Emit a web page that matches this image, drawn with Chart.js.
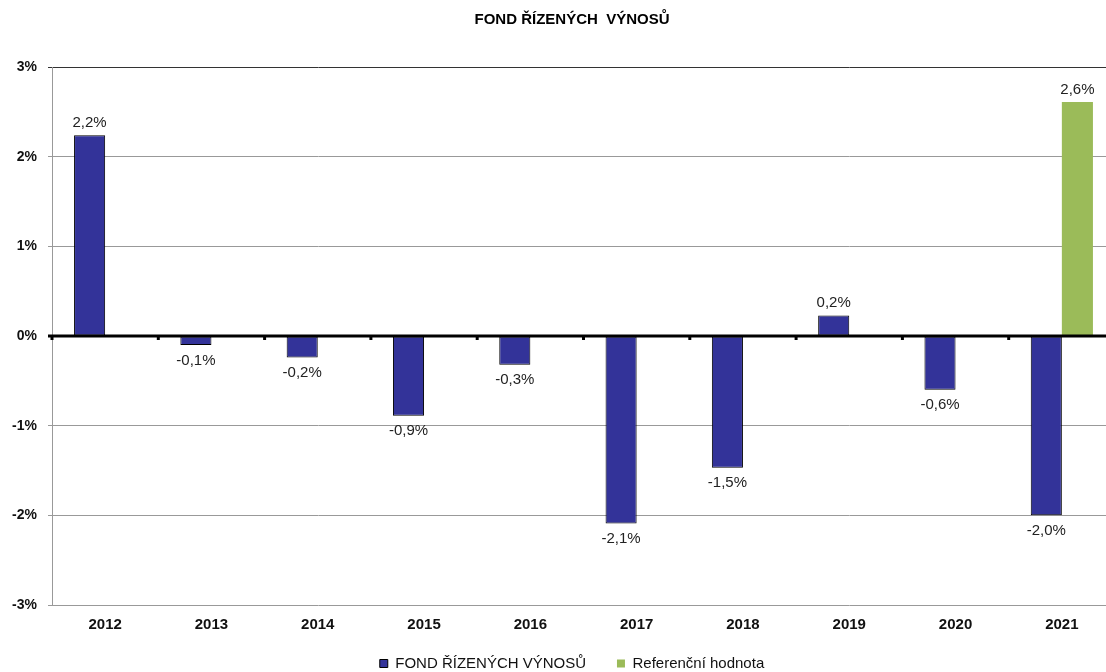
<!DOCTYPE html>
<html>
<head>
<meta charset="utf-8">
<script src="https://cdn.jsdelivr.net/npm/chart.js@4/dist/chart.umd.min.js"></script>
<style>
  html, body { margin: 0; padding: 0; background: #fff; overflow: hidden; width: 1106px; height: 672px; }
  #wrap { width: 1106px; height: 672px; overflow: hidden; }
</style>
</head>
<body>
<div id="wrap"><canvas id="fond_chart" width="1144" height="681"></canvas></div>
<script>
"use strict";

const years = ["2012", "2013", "2014", "2015", "2016", "2017", "2018", "2019", "2020", "2021"];
const fondValues = [2.24, -0.1, -0.24, -0.89, -0.32, -2.09, -1.47, 0.23, -0.6, -2.0];
const fondLabels = ["2,2%", "-0,1%", "-0,2%", "-0,9%", "-0,3%", "-2,1%", "-1,5%", "0,2%", "-0,6%", "-2,0%"];
const refValues = [null, null, null, null, null, null, null, null, null, 2.61];
const refLabels = [null, null, null, null, null, null, null, null, null, "2,6%"];
const yTicks = [-3, -2, -1, 0, 1, 2, 3];

Chart.defaults.font.family = "'Liberation Sans', Arial, sans-serif";
Chart.defaults.color = "#111";

// value labels above / below bars
const barLabels = {
  id: "barLabels",
  afterDatasetsDraw(chart) {
    const ctx = chart.ctx;
    const texts = [fondLabels, refLabels];
    ctx.save();
    ctx.font = "15px 'Liberation Sans', Arial, sans-serif";
    ctx.fillStyle = "#222";
    ctx.textAlign = "center";
    chart.data.datasets.forEach((ds, i) => {
      const meta = chart.getDatasetMeta(i);
      meta.data.forEach((bar, j) => {
        const v = ds.data[j];
        if (v === null) return;
        if (v >= 0) {
          ctx.textBaseline = "bottom";
          ctx.fillText(texts[i][j], bar.x, bar.y - 5);
        } else {
          ctx.textBaseline = "top";
          ctx.fillText(texts[i][j], bar.x, bar.y + 8);
        }
      });
    });
    ctx.restore();
  }
};

// thick zero line + small category tick marks on it
const zeroTicks = {
  id: "zeroTicks",
  afterDatasetsDraw(chart) {
    const ctx = chart.ctx;
    const x = chart.scales.x;
    const y0 = chart.scales.y.getPixelForValue(0);
    const step = x.getPixelForValue(1) - x.getPixelForValue(0);
    ctx.save();
    ctx.strokeStyle = "#000";
    ctx.lineWidth = 3;
    ctx.beginPath();
    ctx.moveTo(x.left - 4, y0);
    ctx.lineTo(x.right, y0);
    ctx.stroke();
    for (let i = 0; i < years.length; i++) {
      const bx = x.getPixelForValue(i) - step / 2;
      ctx.beginPath();
      ctx.moveTo(bx, y0);
      ctx.lineTo(bx, y0 + 4);
      ctx.stroke();
    }
    ctx.restore();
  }
};

const ctx1 = document.getElementById("fond_chart").getContext("2d");
const fondChart = new Chart(ctx1, {
  type: "bar",
  data: {
    labels: years,
    datasets: [
      {
        label: "FOND ŘÍZENÝCH VÝNOSŮ",
        data: fondValues,
        backgroundColor: "#333399",
        borderColor: "#000",
        borderWidth: 1,
        borderSkipped: false
      },
      {
        label: "Referenční hodnota",
        data: refValues,
        backgroundColor: "#9bbb59",
        borderWidth: 0
      }
    ]
  },
  options: {
    responsive: false,
    animation: false,
    datasets: {
      bar: { categoryPercentage: 0.585, barPercentage: 1 }
    },
    layout: { padding: 0 },
    plugins: {
      title: {
        display: true,
        text: "FOND ŘÍZENÝCH  VÝNOSŮ",
        font: { size: 15, weight: "bold" },
        color: "#000",
        padding: { top: 11, bottom: 38 }
      },
      legend: {
        position: "bottom",
        labels: {
          boxWidth: 8,
          boxHeight: 8,
          padding: 10,
          color: "#111",
          font: { size: 15 },
          generateLabels: chart => {
            const items = Chart.defaults.plugins.legend.labels.generateLabels(chart);
            items[0].text += "     ";
            items[1].strokeStyle = "#9bbb59";
            return items;
          }
        }
      },
      tooltip: { enabled: false }
    },
    scales: {
      x: {
        grid: { display: false, drawTicks: false },
        border: { display: false },
        afterFit: axis => { axis.height = 41; },
        ticks: { font: { size: 15, weight: "bold" }, color: "#111", padding: 11 }
      },
      y: {
        min: -3,
        max: 3,
        afterBuildTicks: axis => { axis.ticks = yTicks.map(v => ({ value: v })); },
        afterFit: axis => { axis.width = 52; },
        border: { display: true, color: "#999", width: 1 },
        grid: {
          color: c => (c.tick.value === 3 ? "#333" : "#999"),
          lineWidth: 1,
          tickLength: 4,
          drawTicks: true
        },
        ticks: {
          font: { size: 14, weight: "bold" },
          color: "#111",
          padding: 11,
          callback: v => v + "%"
        }
      },
      yRight: {
        position: "right",
        min: -3,
        max: 3,
        afterFit: axis => { axis.width = 29; },
        grid: { display: false, drawTicks: false },
        border: { display: false },
        ticks: { display: false }
      }
    }
  },
  plugins: [barLabels, zeroTicks]
});
</script>
</body>
</html>
